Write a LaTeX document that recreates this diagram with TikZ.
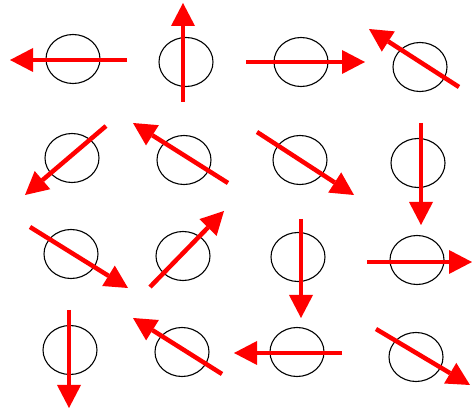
\documentclass[tikz,border=0pt]{standalone}
\begin{document}
\begin{tikzpicture}[x=1pt,y=-1pt,
  ring/.style={draw=black,line width=1.1pt,fill=none},
  spin/.style={draw={rgb,255:red,255;green,0;blue,0},line width=4.5pt},
  spinhead/.style={fill={rgb,255:red,255;green,0;blue,0},draw=none}]
\path[use as bounding box,fill=white] (0,0) rectangle (472,414);
% sites
\draw[ring] (73,59) ellipse (27 and 24.5);
\draw[ring] (186,62) ellipse (27 and 24.5);
\draw[ring] (301,62) ellipse (27 and 24.5);
\draw[ring] (420,67) ellipse (27 and 24.5);
\draw[ring] (72,158) ellipse (27 and 24.5);
\draw[ring] (184,160) ellipse (27 and 24.5);
\draw[ring] (300,160) ellipse (27 and 24.5);
\draw[ring] (418,163) ellipse (27 and 24.5);
\draw[ring] (71,254) ellipse (27 and 24.5);
\draw[ring] (183,256) ellipse (27 and 24.5);
\draw[ring] (298,257) ellipse (27 and 24.5);
\draw[ring] (417,260) ellipse (27 and 24.5);
\draw[ring] (70,350) ellipse (27 and 24.5);
\draw[ring] (182,352) ellipse (27 and 24.5);
\draw[ring] (297,352) ellipse (27 and 24.5);
\draw[ring] (416,357) ellipse (27 and 24.5);
% row 1
\draw[spin] (127,60) -- (33,60);
\path[spinhead] (10,60) -- (33,48) -- (33,72) -- cycle;
\draw[spin] (183,102) -- (183,26);
\path[spinhead] (183,3) -- (171,26) -- (195,26) -- cycle;
\draw[spin] (246,62) -- (342,62);
\path[spinhead] (365,62) -- (342,50) -- (342,74) -- cycle;
\draw[spin] (459,87) -- (388.3,41.5);
\path[spinhead] (369,29) -- (394.8,31.4) -- (381.8,51.6) -- cycle;
% row 2
\draw[spin] (106,126) -- (42.5,180.1);
\path[spinhead] (25,195) -- (50.3,189.2) -- (34.7,171.0) -- cycle;
\draw[spin] (228,183) -- (152.4,135.3);
\path[spinhead] (133,123) -- (158.8,125.2) -- (146.0,145.4) -- cycle;
\draw[spin] (257,132) -- (334.7,182.5);
\path[spinhead] (354,195) -- (328.2,192.6) -- (341.2,172.4) -- cycle;
\draw[spin] (421,123) -- (421,202);
\path[spinhead] (421,225) -- (409,202) -- (433,202) -- cycle;
% row 3
\draw[spin] (30,227) -- (108.5,275.8);
\path[spinhead] (128,288) -- (102.2,286.0) -- (114.8,265.6) -- cycle;
\draw[spin] (150,287) -- (208.0,227.5);
\path[spinhead] (224,211) -- (216.6,235.9) -- (199.4,219.1) -- cycle;
\draw[spin] (301,219) -- (301,295);
\path[spinhead] (301,318) -- (289,295) -- (313,295) -- cycle;
\draw[spin] (367,262) -- (449,262);
\path[spinhead] (472,262) -- (449,250) -- (449,274) -- cycle;
% row 4
\draw[spin] (69,310) -- (69,385);
\path[spinhead] (69,408) -- (57,385) -- (81,385) -- cycle;
\draw[spin] (222,374) -- (152.5,330.2);
\path[spinhead] (133,318) -- (158.9,320.0) -- (146.1,340.4) -- cycle;
\draw[spin] (342,353) -- (257,353);
\path[spinhead] (234,353) -- (257,341) -- (257,365) -- cycle;
\draw[spin] (376,329) -- (450.2,373.2);
\path[spinhead] (470,385) -- (444.1,383.5) -- (456.3,362.9) -- cycle;
\end{tikzpicture}
\end{document}
